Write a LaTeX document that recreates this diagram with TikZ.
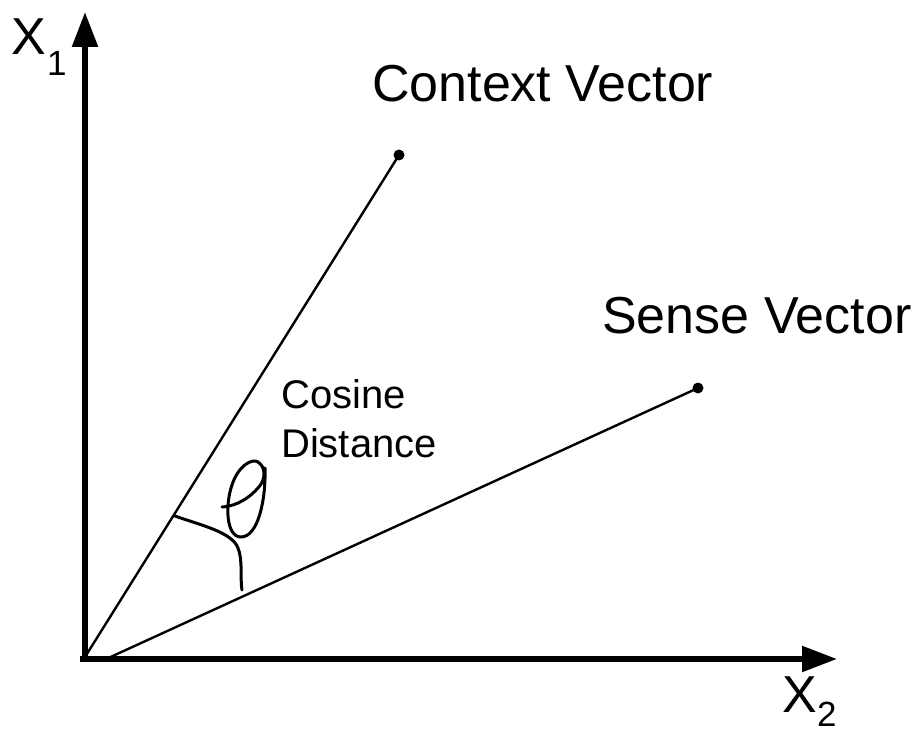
\documentclass[tikz,border=0pt]{standalone}
\usepackage{fontspec}
\setmainfont{Liberation Sans}
\usetikzlibrary{arrows.meta}

\begin{document}
\begin{tikzpicture}[x=1pt,y=1pt,yscale=-1,xscale=1,
  axis/.style={line width=5.5pt,-{Triangle[length=35pt,width=25pt]}},
  vec/.style={line width=2.4pt},
  hand/.style={line width=3pt,line cap=round,line join=round},
  big/.style={anchor=base west,inner sep=0pt,font=\fontsize{52}{60}\selectfont},
  small/.style={anchor=base west,inner sep=0pt,font=\fontsize{35}{40}\selectfont}]
\useasboundingbox (0,0) rectangle (919,733);

% Axes
\coordinate (O) at (85,659);
\coordinate (Otop) at (85,662);
\coordinate (Oleft) at (80,659);
\coordinate (Ytip) at (85,12);
\coordinate (Xtip) at (837,659);
\draw [axis] (Otop) -- (Ytip);
\draw [axis] (Oleft) -- (Xtip);

% Vectors
\coordinate (ctxstart) at (85,657);
\coordinate (ctx) at (399,155);
\coordinate (senstart) at (104,660);
\coordinate (sen) at (698,388);
\draw [vec] (ctxstart) -- (ctx);
\draw [vec] (senstart) -- (sen);
\fill (ctx) circle (5.5);
\fill (sen) circle (5.5);

% Angle mark and theta
\draw [hand] (175,516) .. controls (200,525) and (232,532) .. (238,548) .. controls (243,560) and (240,580) .. (242,590);
\draw [hand] (265,468) .. controls (266,500) and (258,537) .. (241,537) .. controls (226,537) and (225,505) .. (232,485) .. controls (238,466) and (252,458) .. (258,462) .. controls (266,467) and (266,480) .. (258,488) .. controls (250,497) and (238,506) .. (222,507);

% Text Node
\node [big] (x1) at (11,55) {X};
\node [small] (x1sub) at (47,76) {1};
\node [big] (x2) at (782,712) {X};
\node [small] (x2sub) at (817,726) {2};
% Text Node
\node [big] (ctxlabel) at (372,102) {Context Vector};
\node [big] (senlabel) at (602,333) {Sense Vector};
% Text Node
\node [anchor=base west,inner sep=0pt,font=\fontsize{40}{48}\selectfont] (cosl1) at (281,408) {Cosine};
\node [anchor=base west,inner sep=0pt,font=\fontsize{40}{48}\selectfont] (cosl2) at (281,457) {Distance};

\end{tikzpicture}
\end{document}
